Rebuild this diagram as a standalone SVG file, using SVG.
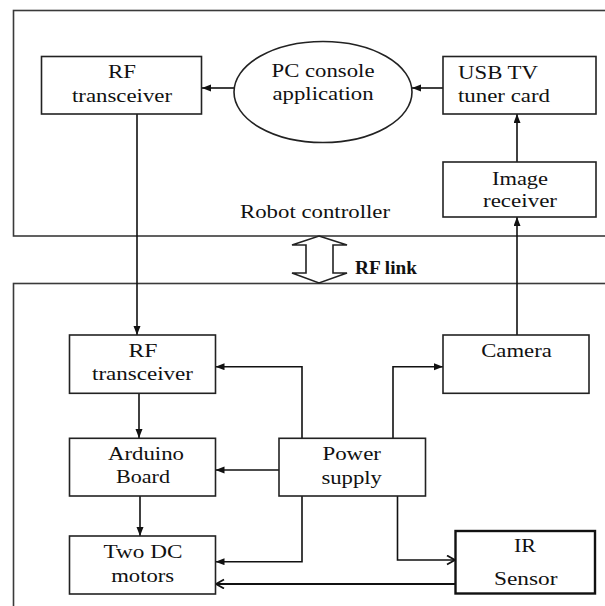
<svg xmlns="http://www.w3.org/2000/svg" width="605" height="606" viewBox="0 0 605 606">
<style>
.frame{fill:none;stroke:#3a3a3a;stroke-width:1.6}
.box{fill:#fff;stroke:#222;stroke-width:1.6}
.thick{fill:#fff;stroke:#111;stroke-width:2.4}
text{font-family:'Liberation Serif','DejaVu Serif',serif;font-size:19px;fill:#111;text-anchor:middle}
.ts{text-anchor:start}
.b{font-weight:bold}
.c{fill:none;stroke:#111;stroke-width:1.6}
.cw{fill:none;stroke:#111;stroke-width:2.2}
</style>
<defs>
<marker id="ah" markerUnits="userSpaceOnUse" markerWidth="10" markerHeight="8" refX="9" refY="3.5" orient="auto">
<path d="M0,0 L9,3.5 L0,7 z" fill="#111"/>
</marker>
<marker id="oh" markerUnits="userSpaceOnUse" markerWidth="12" markerHeight="12" refX="9" refY="5" orient="auto">
<path d="M1,0.5 L9,5 L1,9.5" fill="none" stroke="#111" stroke-width="1.8"/>
</marker>
</defs>

<g id="robot-controller-frame">
<rect class="frame" x="13.5" y="10.5" width="700" height="225.5"/>
<text x="315" y="218" textLength="150" lengthAdjust="spacingAndGlyphs">Robot controller</text>
</g>
<g id="robot-frame">
<rect class="frame" x="13.5" y="283.5" width="700" height="400"/>
</g>

<g id="rf-link">
<polygon points="319,236 347,245 333,245 333,273 347,273 319,283 292,273 306,273 306,245 292,245" fill="#fff" stroke="#222" stroke-width="1.6"/>
<text class="b ts" x="355" y="273.5" textLength="62" lengthAdjust="spacingAndGlyphs">RF link</text>
</g>

<g id="connectors">
<path class="c" d="M234,88 H202" marker-end="url(#ah)"/>
<path class="c" d="M443,88 H412" marker-end="url(#ah)"/>
<path class="c" d="M517,162 V114" marker-end="url(#ah)"/>
<path class="c" d="M137,114 V335" marker-end="url(#ah)"/>
<path class="c" d="M517,335 V217" marker-end="url(#ah)"/>
<path class="c" d="M139,393 V438" marker-end="url(#ah)"/>
<path class="c" d="M140,496 V536" marker-end="url(#ah)"/>
<path class="c" d="M302,438 V366.7 H215.5" marker-end="url(#ah)"/>
<path class="c" d="M393,438 V366.7 H443" marker-end="url(#ah)"/>
<path class="c" d="M279,470 H215.5" marker-end="url(#ah)"/>
<path class="c" d="M302,496 V561.7 H215.5" marker-end="url(#ah)"/>
<path class="c" d="M397.5,496 V560 H455" marker-end="url(#oh)"/>
<path class="cw" d="M455,584 H216" marker-end="url(#oh)"/>
</g>

<g id="rf-transceiver-top">
<rect class="box" x="41.5" y="56.5" width="160" height="57.5"/>
<text x="122" y="78" textLength="28" lengthAdjust="spacingAndGlyphs">RF</text>
<text x="122" y="101.5" textLength="100" lengthAdjust="spacingAndGlyphs">transceiver</text>
</g>
<g id="pc-console">
<ellipse class="box" cx="323" cy="92" rx="89" ry="50.5"/>
<text x="323" y="76.5" textLength="103" lengthAdjust="spacingAndGlyphs">PC console</text>
<text x="323" y="100" textLength="101" lengthAdjust="spacingAndGlyphs">application</text>
</g>
<g id="usb-tv-tuner">
<rect class="box" x="443" y="56.5" width="153" height="57.5"/>
<text class="ts" x="458" y="79" textLength="80" lengthAdjust="spacingAndGlyphs">USB TV</text>
<text class="ts" x="458" y="101.5" textLength="92" lengthAdjust="spacingAndGlyphs">tuner card</text>
</g>
<g id="image-receiver">
<rect class="box" x="443" y="162" width="153" height="55"/>
<text x="520" y="185" textLength="56" lengthAdjust="spacingAndGlyphs">Image</text>
<text x="520" y="207" textLength="74" lengthAdjust="spacingAndGlyphs">receiver</text>
</g>

<g id="rf-transceiver-bottom">
<rect class="box" x="69.5" y="335" width="146" height="58.3"/>
<text x="143" y="356.7" textLength="29" lengthAdjust="spacingAndGlyphs">RF</text>
<text x="142.5" y="380" textLength="101" lengthAdjust="spacingAndGlyphs">transceiver</text>
</g>
<g id="camera">
<rect class="box" x="443" y="335" width="146" height="58.3"/>
<text x="516.5" y="357.3" textLength="70.5" lengthAdjust="spacingAndGlyphs">Camera</text>
</g>
<g id="arduino">
<rect class="box" x="69.5" y="438.3" width="146" height="57.7"/>
<text x="146" y="460" textLength="76" lengthAdjust="spacingAndGlyphs">Arduino</text>
<text x="143" y="483.3" textLength="54" lengthAdjust="spacingAndGlyphs">Board</text>
</g>
<g id="power-supply">
<rect class="box" x="279" y="438.3" width="146.5" height="57.7"/>
<text x="351.7" y="460" textLength="58.6" lengthAdjust="spacingAndGlyphs">Power</text>
<text x="351.7" y="484" textLength="60.6" lengthAdjust="spacingAndGlyphs">supply</text>
</g>
<g id="dc-motors">
<rect class="box" x="69.5" y="536" width="146" height="58"/>
<text x="143" y="558.3" textLength="79" lengthAdjust="spacingAndGlyphs">Two DC</text>
<text x="142.7" y="581.7" textLength="63" lengthAdjust="spacingAndGlyphs">motors</text>
</g>
<g id="ir-sensor">
<rect class="thick" x="455.5" y="531" width="139.5" height="62.5"/>
<text x="525" y="551.7" textLength="22" lengthAdjust="spacingAndGlyphs">IR</text>
<text x="525.7" y="585" textLength="63.5" lengthAdjust="spacingAndGlyphs">Sensor</text>
</g>
</svg>
